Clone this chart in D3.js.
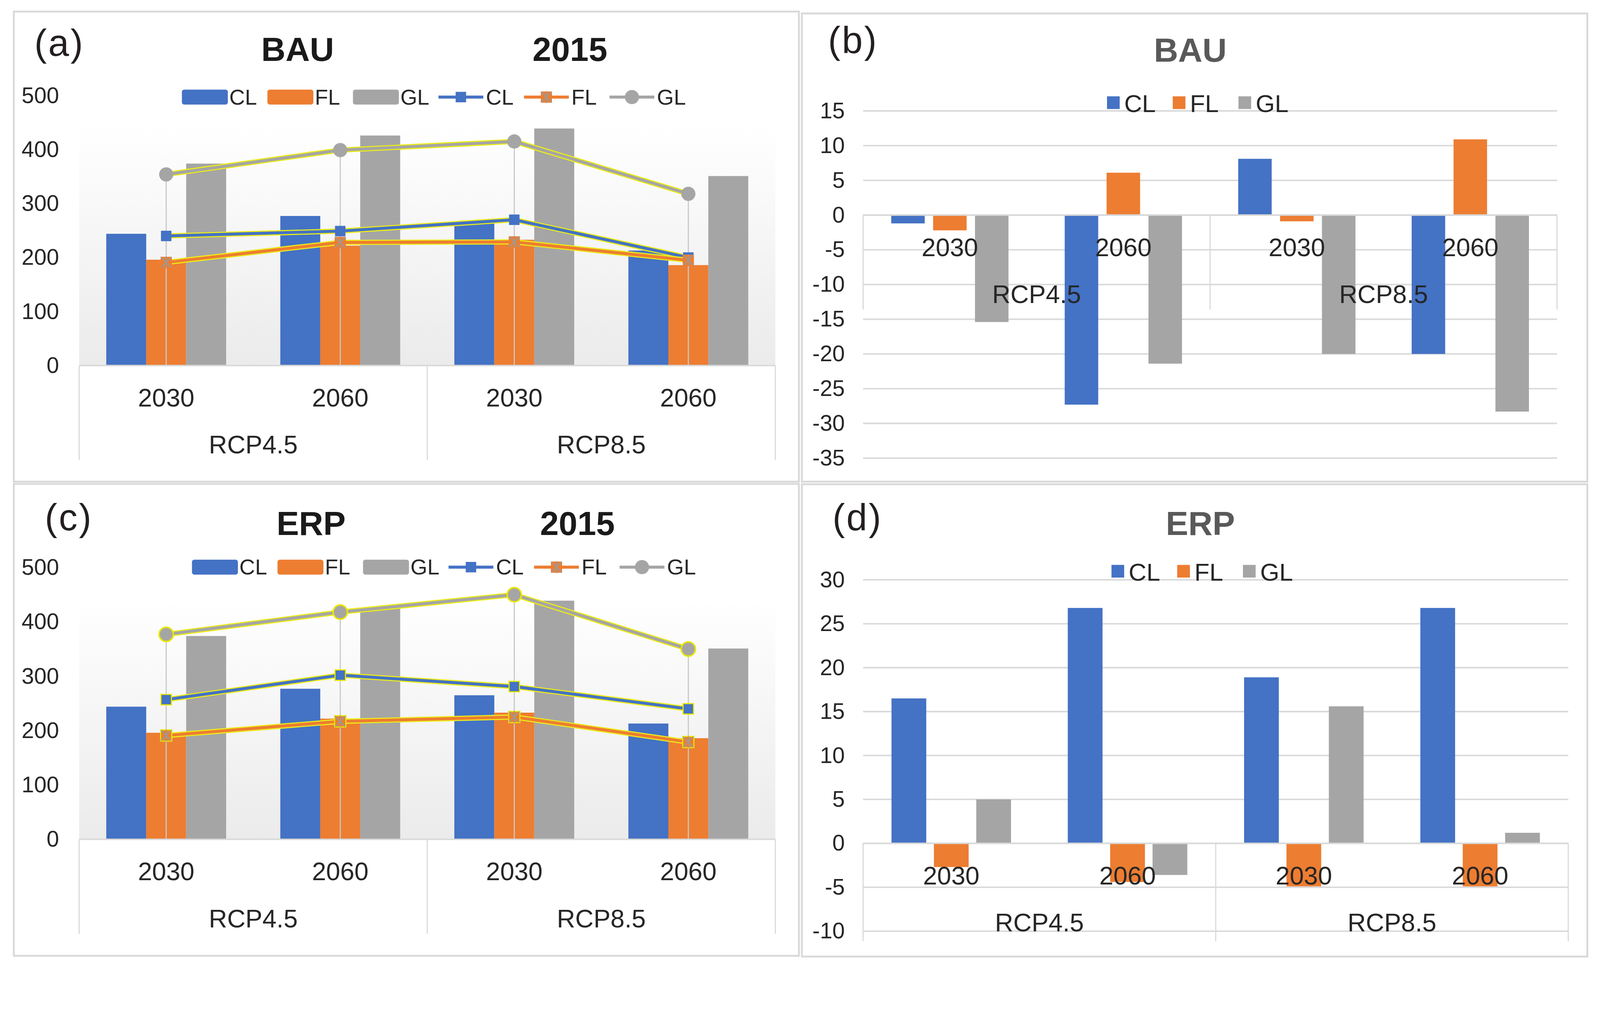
<!DOCTYPE html>
<html>
<head>
<meta charset="utf-8">
<script src="https://cdnjs.cloudflare.com/ajax/libs/d3/7.8.5/d3.min.js"></script>
<style>
html, body { margin: 0; padding: 0; background: #fff; overflow: hidden; }
#chart svg { display: block; width: 100vw; height: 100vh; }
svg text { font-family: "Liberation Sans", Arial, sans-serif; }
</style>
</head>
<body>
<div id="chart"></div>
<script>
// categories / labels
var categories = ["2030", "2060", "2030", "2060"];
var scenarios = ["RCP4.5", "RCP8.5"];
var series = ["CL", "FL", "GL"];
var colors = {CL: "#4472C4", FL: "#ED7D31", GL: "#A5A5A5"};

// 2015 bars (same in a and c)
var base2015CL = [244, 277, 265, 213];
var base2015FL = [196, 222, 233, 186];
var base2015GL = [374, 426, 439, 351];

// BAU lines (a)
var bauCL = [240, 249, 270, 200];
var bauFL = [191, 228, 229, 195];
var bauGL = [354, 399, 415, 318];

// ERP lines (c)
var erpCL = [257, 302, 281, 240];
var erpFL = [191, 217, 225, 179];
var erpGL = [377, 418, 450, 350];

// BAU change (b)
var bauDiffCL = [-1.2, -27.3, 8.1, -20.0];
var bauDiffFL = [-2.2, 6.1, -0.9, 10.9];
var bauDiffGL = [-15.4, -21.4, -20.0, -28.3];

// ERP change (d)
var erpDiffCL = [16.5, 26.8, 18.9, 26.8];
var erpDiffFL = [-2.7, -4.4, -4.9, -4.9];
var erpDiffGL = [5.0, -3.6, 15.6, 1.2];

var width = 4284, height = 2589;
var svg = d3.select("#chart").append("svg")
    .attr("viewBox", "0 0 " + width + " " + height)
    .attr("preserveAspectRatio", "xMinYMin meet");

var defs = svg.append("defs");
var grad = defs.append("linearGradient")
    .attr("id", "plotbg")
    .attr("x1", 0).attr("y1", 0).attr("x2", 0).attr("y2", 1);
grad.append("stop").attr("offset", "0%").attr("stop-color", "#ffffff");
grad.append("stop").attr("offset", "100%").attr("stop-color", "#ebebeb");

function make_rows(a, b, c) {
    var rows = [];
    categories.forEach(function(cat, i) {
        rows.push({i: i, s: "CL", v: a[i]});
        rows.push({i: i, s: "FL", v: b[i]});
        rows.push({i: i, s: "GL", v: c[i]});
    });
    return rows;
}

function draw_marker(g, s, x, y, outline) {
    if (s == "CL") {
        g.append("rect")
            .attr("x", x - 14).attr("y", y - 14)
            .attr("width", 28).attr("height", 28)
            .attr("fill", colors.CL)
            .attr("stroke", outline ? "#e8e800" : "none")
            .attr("stroke-width", 3);
    } else if (s == "FL") {
        g.append("rect")
            .attr("x", x - 15).attr("y", y - 15)
            .attr("width", 30).attr("height", 30)
            .attr("fill", colors.FL)
            .attr("stroke", outline ? "#e8e800" : "none")
            .attr("stroke-width", 3);
        g.append("path")
            .attr("d", "M" + (x - 14) + "," + (y - 14) + "L" + (x + 14) + "," + (y + 14) +
                "M" + (x + 14) + "," + (y - 14) + "L" + (x - 14) + "," + (y + 14) +
                "M" + x + "," + (y - 16) + "L" + x + "," + (y + 16))
            .attr("stroke", "#9a9a9a")
            .attr("stroke-width", 3)
            .attr("fill", "none");
    } else {
        g.append("circle")
            .attr("cx", x).attr("cy", y).attr("r", 19)
            .attr("fill", colors.GL)
            .attr("stroke", outline ? "#e8e800" : "none")
            .attr("stroke-width", 4);
    }
}

function category_axis(g, x, zero, sepLen, yearOff, rcpOff) {
    var r = x.range();
    var mid = (r[0] + r[1]) / 2;
    g.append("line")
        .attr("x1", r[0]).attr("x2", r[1])
        .attr("y1", zero).attr("y2", zero)
        .attr("stroke", "#d9d9d9").attr("stroke-width", 4);
    [r[0], mid, r[1]].forEach(function(sx) {
        g.append("line")
            .attr("x1", sx).attr("x2", sx)
            .attr("y1", zero).attr("y2", zero + sepLen)
            .attr("stroke", "#d9d9d9").attr("stroke-width", 3);
    });
    g.selectAll(".year")
        .data(categories)
        .enter()
        .append("text")
        .attr("class", "year")
        .attr("x", function(d, i) { return x(i) + x.bandwidth() / 2; })
        .attr("y", zero + yearOff)
        .attr("dominant-baseline", "central")
        .attr("text-anchor", "middle")
        .attr("font-size", 68)
        .attr("fill", "#262626")
        .text(function(d) { return d; });
    g.selectAll(".rcp")
        .data(scenarios)
        .enter()
        .append("text")
        .attr("class", "rcp")
        .attr("x", function(d, i) { return x(i * 2) + x.bandwidth(); })
        .attr("y", zero + rcpOff)
        .attr("dominant-baseline", "central")
        .attr("text-anchor", "middle")
        .attr("font-size", 68)
        .attr("fill", "#262626")
        .text(function(d) { return d; });
}

function draw_combo(opt) {
    var g = svg.append("g");

    g.append("rect")
        .attr("x", opt.box[0]).attr("y", opt.box[1])
        .attr("width", opt.box[2] - opt.box[0]).attr("height", opt.box[3] - opt.box[1])
        .attr("fill", "#fff").attr("stroke", "#d9d9d9").attr("stroke-width", 5);

    var x = d3.scaleBand().domain(d3.range(categories.length)).range([opt.left, opt.right]);
    var xs = d3.scaleBand().domain(series).range([-opt.group / 2, opt.group / 2]);
    var y = d3.scaleLinear().domain([0, 500]).range([opt.zero, opt.top]);
    var cx = function(i) { return x(i) + x.bandwidth() / 2; };

    g.append("rect")
        .attr("x", opt.left).attr("y", opt.bgTop)
        .attr("width", opt.right - opt.left).attr("height", y(0) - opt.bgTop)
        .attr("fill", "url(#plotbg)");

    // y labels
    var ya = g.append("g")
        .attr("transform", "translate(" + opt.tickX + ",0)")
        .call(d3.axisLeft(y).tickValues(d3.range(0, 501, 100)).tickSize(0).tickPadding(0));
    ya.select(".domain").remove();
    ya.selectAll("text")
        .attr("font-size", 60)
        .attr("font-family", "Liberation Sans, Arial, sans-serif")
        .attr("fill", "#262626");

    // bars
    g.selectAll(".bar")
        .data(make_rows(base2015CL, base2015FL, base2015GL))
        .enter()
        .append("rect")
        .attr("class", "bar")
        .attr("x", function(d) { return cx(d.i) + xs(d.s); })
        .attr("y", function(d) { return y(d.v); })
        .attr("width", xs.bandwidth())
        .attr("height", function(d) { return y(0) - y(d.v); })
        .attr("fill", function(d) { return colors[d.s]; });

    // drop lines
    categories.forEach(function(c, i) {
        var top = d3.max([opt.lines.CL[i], opt.lines.FL[i], opt.lines.GL[i]]);
        g.append("line")
            .attr("x1", cx(i)).attr("x2", cx(i))
            .attr("y1", y(top)).attr("y2", y(0))
            .attr("stroke", "#c8c8c8").attr("stroke-width", 3);
    });

    var line = d3.line()
        .x(function(d, i) { return cx(i); })
        .y(function(d) { return y(d); });

    series.forEach(function(s) {
        g.append("path")
            .attr("d", line(opt.lines[s]))
            .attr("fill", "none")
            .attr("stroke", "#ecec1a")
            .attr("stroke-width", 14)
            .attr("stroke-linejoin", "round");
        g.append("path")
            .attr("d", line(opt.lines[s]))
            .attr("fill", "none")
            .attr("stroke", colors[s])
            .attr("stroke-width", 8)
            .attr("stroke-linejoin", "round");
        opt.lines[s].forEach(function(v, i) {
            draw_marker(g, s, cx(i), y(v), opt.outline);
        });
    });

    category_axis(g, x, y(0), 253, 86, 212);

    // titles
    g.append("text")
        .attr("x", opt.label[0]).attr("y", opt.label[1])
        .attr("font-size", 100).attr("letter-spacing", 4).attr("fill", "#231f20")
        .text(opt.labelText);
    g.append("text")
        .attr("x", opt.title1).attr("y", opt.titleY)
        .attr("text-anchor", "middle").attr("font-size", 90).attr("font-weight", "bold")
        .attr("fill", "#1a1a1a")
        .text(opt.titleText);
    g.append("text")
        .attr("x", opt.title2).attr("y", opt.titleY)
        .attr("text-anchor", "middle").attr("font-size", 90).attr("font-weight", "bold")
        .attr("fill", "#1a1a1a")
        .text("2015");

    // legend: 3 bars then 3 lines
    var leg = g.append("g").attr("transform", "translate(" + opt.legX + "," + opt.legY + ")");
    var items = series.map(function(s) { return {s: s, kind: "bar"}; })
        .concat(series.map(function(s) { return {s: s, kind: "line"}; }));
    items.forEach(function(d, k) {
        var lx = k * 229;
        if (d.kind == "bar") {
            leg.append("rect")
                .attr("x", lx).attr("y", -20)
                .attr("width", 123).attr("height", 40).attr("rx", 6)
                .attr("fill", colors[d.s]);
        } else {
            leg.append("line")
                .attr("x1", lx).attr("x2", lx + 120)
                .attr("y1", 0).attr("y2", 0)
                .attr("stroke", colors[d.s]).attr("stroke-width", 8);
            draw_marker(leg, d.s, lx + 60, 0, false);
        }
        leg.append("text")
            .attr("x", lx + 127).attr("y", 0)
            .attr("dominant-baseline", "central")
            .attr("font-size", 58).attr("fill", "#262626")
            .text(d.s);
    });
}

function draw_diff(opt) {
    var g = svg.append("g");

    g.append("rect")
        .attr("x", opt.box[0]).attr("y", opt.box[1])
        .attr("width", opt.box[2] - opt.box[0]).attr("height", opt.box[3] - opt.box[1])
        .attr("fill", "#fff").attr("stroke", "#d9d9d9").attr("stroke-width", 5);

    var x = d3.scaleBand().domain(d3.range(categories.length)).range([opt.left, opt.right]);
    var xs = d3.scaleBand().domain(series).range([-opt.group / 2, opt.group / 2]).paddingInner(opt.pad);
    var y = d3.scaleLinear().domain(opt.domain).range([opt.bottom, opt.top]);
    var cx = function(i) { return x(i) + x.bandwidth() / 2; };
    var ticks = d3.range(opt.domain[0], opt.domain[1] + 1, 5);

    // gridlines
    g.selectAll(".grid")
        .data(ticks)
        .enter()
        .append("line")
        .attr("class", "grid")
        .attr("x1", opt.left).attr("x2", opt.right)
        .attr("y1", function(d) { return y(d); })
        .attr("y2", function(d) { return y(d); })
        .attr("stroke", "#d9d9d9").attr("stroke-width", 4);

    var ya = g.append("g")
        .attr("transform", "translate(" + opt.tickX + ",0)")
        .call(d3.axisLeft(y).tickValues(ticks).tickSize(0).tickPadding(0).tickFormat(function(d) { return String(d); }));
    ya.select(".domain").remove();
    ya.selectAll("text")
        .attr("font-size", 60)
        .attr("font-family", "Liberation Sans, Arial, sans-serif")
        .attr("fill", "#262626");

    g.selectAll(".bar")
        .data(make_rows(opt.CL, opt.FL, opt.GL))
        .enter()
        .append("rect")
        .attr("class", "bar")
        .attr("x", function(d) { return cx(d.i) + xs(d.s); })
        .attr("y", function(d) { return Math.min(y(d.v), y(0)); })
        .attr("width", xs.bandwidth())
        .attr("height", function(d) { return Math.abs(y(d.v) - y(0)); })
        .attr("fill", function(d) { return colors[d.s]; });

    category_axis(g, x, y(0), opt.sepLen, 87, 212);

    g.append("text")
        .attr("x", opt.label[0]).attr("y", opt.label[1])
        .attr("font-size", 100).attr("letter-spacing", 4).attr("fill", "#231f20")
        .text(opt.labelText);
    g.append("text")
        .attr("x", opt.titleX).attr("y", opt.titleY)
        .attr("text-anchor", "middle").attr("font-size", 90).attr("font-weight", "bold")
        .attr("fill", "#595959")
        .text(opt.titleText);

    var leg = g.append("g").attr("transform", "translate(" + opt.legX + "," + opt.legY + ")");
    series.forEach(function(s, k) {
        var lx = k * 176;
        leg.append("rect")
            .attr("x", lx).attr("y", -17)
            .attr("width", 34).attr("height", 34)
            .attr("fill", colors[s]);
        leg.append("text")
            .attr("x", lx + 46).attr("y", 2)
            .attr("dominant-baseline", "central")
            .attr("font-size", 66).attr("fill", "#262626")
            .text(s);
    });
}

draw_combo({
    box: [37, 31, 2139, 1290],
    left: 212, right: 2076, group: 321,
    zero: 979, top: 256, bgTop: 337, tickX: 158,
    lines: {CL: bauCL, FL: bauFL, GL: bauGL},
    outline: false,
    label: [92, 150], labelText: "(a)",
    titleText: "BAU", title1: 797, title2: 1526, titleY: 163,
    legX: 487, legY: 260
});

draw_combo({
    box: [37, 1296, 2139, 2560],
    left: 212, right: 2076, group: 321,
    zero: 2248, top: 1520, bgTop: 1602, tickX: 158,
    lines: {CL: erpCL, FL: erpFL, GL: erpGL},
    outline: true,
    label: [120, 1420], labelText: "(c)",
    titleText: "ERP", title1: 833, title2: 1546, titleY: 1433,
    legX: 514, legY: 1519
});

draw_diff({
    box: [2147, 36, 4250, 1290],
    left: 2311, right: 4169, group: 314, pad: 0.2,
    domain: [-35, 15], bottom: 1227, top: 297, tickX: 2262, sepLen: 253,
    CL: bauDiffCL, FL: bauDiffFL, GL: bauDiffGL,
    label: [2217, 142], labelText: "(b)",
    titleText: "BAU", titleX: 3187, titleY: 165,
    legX: 2964, legY: 275
});

draw_diff({
    box: [2147, 1297, 4250, 2562],
    left: 2311, right: 4199, group: 320, pad: 0.18,
    domain: [-10, 30], bottom: 2494, top: 1553, tickX: 2262, sepLen: 262,
    CL: erpDiffCL, FL: erpDiffFL, GL: erpDiffGL,
    label: [2229, 1420], labelText: "(d)",
    titleText: "ERP", titleX: 3214, titleY: 1433,
    legX: 2976, legY: 1530
});
</script>
</body>
</html>
